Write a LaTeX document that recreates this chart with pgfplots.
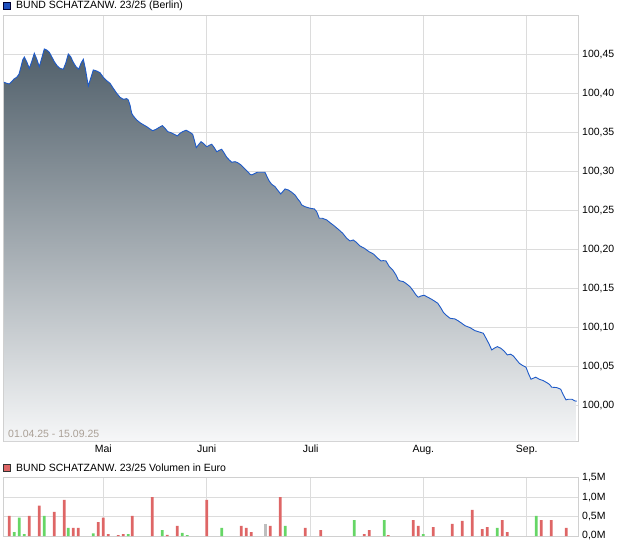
\documentclass[border=0pt]{standalone}
\usepackage{pgfplots}
\pgfplotsset{compat=1.18}
\usepackage{pgfplotstable}
\usepackage{fontspec}
\setmainfont{Liberation Sans}
\definecolor{gridc}{RGB}{220,220,220}
\definecolor{framec}{RGB}{208,208,208}
\definecolor{linec}{RGB}{30,90,200}
\definecolor{topc}{RGB}{80,95,106}
\definecolor{botc}{RGB}{246,247,248}
\definecolor{volred}{RGB}{222,102,102}
\definecolor{volgreen}{RGB}{102,214,102}
\definecolor{volgray}{RGB}{190,190,190}
\definecolor{datec}{RGB}{170,160,150}
\definecolor{legblue}{RGB}{30,80,190}

\pgfplotstableread{
px p
4 100.4150
6.7 100.4137
9.3 100.4128
11.7 100.4158
14 100.4192
16.7 100.4214
19 100.4253
21 100.4350
22.7 100.4436
24.3 100.4474
26.7 100.4414
29.3 100.4329
31.7 100.4414
34.3 100.4522
36.7 100.4449
39.3 100.4350
41.7 100.4458
44.3 100.4577
46.7 100.4564
49.3 100.4535
51.7 100.4478
54.3 100.4414
57.3 100.4359
60 100.4329
63.3 100.4317
65.7 100.4394
68.3 100.4513
70.7 100.4478
73.3 100.4406
76 100.4350
78.7 100.4317
81 100.4394
83.3 100.4445
85.3 100.4329
88.3 100.4103
90.7 100.4201
93.3 100.4308
96.7 100.4295
100 100.4273
103.3 100.4214
106.7 100.4171
110 100.4137
113.3 100.4073
116.7 100.4009
120 100.3958
123.3 100.3932
126.7 100.3940
128.3 100.3923
130 100.3859
131.7 100.3753
133.3 100.3718
136.7 100.3667
140 100.3632
143.3 100.3606
146.7 100.3581
150 100.3551
152.7 100.3529
156 100.3547
159.3 100.3573
162.3 100.3594
165 100.3560
167.7 100.3517
171 100.3504
174.3 100.3483
177.3 100.3462
180 100.3496
182.7 100.3517
186 100.3535
190 100.3509
192.7 100.3483
194.3 100.3410
196.3 100.3312
198.3 100.3346
201 100.3388
203.3 100.3368
206.7 100.3324
210 100.3346
211.7 100.3355
214 100.3317
216.7 100.3260
220 100.3282
221.7 100.3291
224.3 100.3240
226.7 100.3188
229.3 100.3154
231.7 100.3124
235 100.3132
237.7 100.3119
241 100.3090
244.3 100.3047
247.7 100.3004
250 100.2971
251.7 100.2962
255 100.2983
257.3 100.2996
265 100.2996
266.7 100.2949
269 100.2888
271.7 100.2842
275 100.2812
278.3 100.2756
280.7 100.2718
282.7 100.2747
285 100.2782
288.3 100.2769
291.7 100.2740
295 100.2705
297.7 100.2654
300 100.2619
301.7 100.2577
305 100.2555
310 100.2535
314.3 100.2526
316.7 100.2491
319.3 100.2406
322.3 100.2406
326.7 100.2385
330 100.2350
334.3 100.2308
338.3 100.2265
342.7 100.2214
346.7 100.2150
350 100.2115
353.3 100.2128
356.7 100.2094
360 100.2051
364.3 100.2022
369 100.1978
373.3 100.1949
377.7 100.1894
381 100.1859
383.3 100.1863
386 100.1859
389.3 100.1786
392.7 100.1744
396 100.1679
398.3 100.1615
400 100.1603
403.3 100.1594
406.7 100.1564
410 100.1529
413.3 100.1474
416 100.1423
418.3 100.1394
421 100.1410
424.3 100.1419
426.7 100.1401
431 100.1372
434.3 100.1346
437.7 100.1317
441 100.1253
443.3 100.1201
446.7 100.1158
450 100.1124
455 100.1115
458.3 100.1090
461.7 100.1060
465 100.1029
470 100.1004
475 100.0965
480 100.0945
483.3 100.0932
486 100.0868
489 100.0795
491.7 100.0718
494.3 100.0740
497.3 100.0760
500.7 100.0740
504 100.0705
507.3 100.0654
510.7 100.0663
513.3 100.0641
516 100.0599
519.3 100.0547
522.7 100.0517
526 100.0496
528.3 100.0419
531 100.0342
533.3 100.0355
535.7 100.0368
539.3 100.0342
543.3 100.0324
546.7 100.0299
549.3 100.0278
551.7 100.0240
556.7 100.0235
560.7 100.0214
563.3 100.0141
566 100.0077
568.3 100.0086
571.7 100.0086
575 100.0064
576.7 100.0060
}\pricetable
\pgfplotstableread{
px p
576.7 99.955
4 99.955
}\basetable
\pgfplotstablevertcat{\areatable}{\pricetable}
\pgfplotstablevertcat{\areatable}{\basetable}

\begin{document}
\begin{tikzpicture}
\useasboundingbox (0pt,0pt) rectangle (620pt,546pt);
% price panel (y plotted relative to 100)
\begin{axis}[
  at={(3pt,105pt)}, anchor=south west,
  width=575pt, height=425pt, scale only axis,
  xmin=3, xmax=578, ymin=-0.045, ymax=0.50,
  axis line style={framec, line width=1pt},
  xtick={103.3,206.7,310.7,423.3,526.7},
  xticklabels={Mai,Juni,Juli,Aug.,Sep.},
  ytick={0,0.05,0.1,0.15,0.2,0.25,0.3,0.35,0.4,0.45},
  yticklabels={{100,00},{100,05},{100,10},{100,15},{100,20},{100,25},{100,30},{100,35},{100,40},{100,45}},
  yticklabel pos=right,
  grid=major, major grid style={gridc, line width=1pt},
  major tick length=0pt,
  tick style={draw=none},
  ticklabel style={font=\fontsize{10.5}{12}\selectfont, inner sep=0pt},
  yticklabel style={anchor=west, xshift=4pt},
  xticklabel style={anchor=north, yshift=-4pt},
]
\addplot[draw=none, top color=topc, bottom color=botc] table[x=px, y expr=\thisrow{p}-100] {\areatable};
\addplot[linec, line width=0.9pt, mark=none] table[x=px, y expr=\thisrow{p}-100] {\pricetable};
\end{axis}
\node[anchor=west, text=datec, inner sep=0pt, font=\fontsize{10.5}{12}\selectfont] at (8pt,111.7pt) {01.04.25 - 15.09.25};
% volume panel
\begin{axis}[
  at={(3pt,10pt)}, anchor=south west,
  width=575pt, height=58.3pt, scale only axis,
  xmin=3, xmax=578, ymin=0, ymax=1.5,
  axis line style={framec, line width=1pt},
  xtick={103.3,206.7,310.7,423.3,526.7},
  xticklabels={},
  ytick={0,0.5,1,1.5},
  yticklabels={{0,0M},{0,5M},{1,0M},{1,5M}},
  yticklabel pos=right,
  grid=major, major grid style={gridc, line width=1pt},
  major tick length=0pt,
  tick style={draw=none},
  ticklabel style={font=\fontsize{10.5}{12}\selectfont, inner sep=0pt},
  yticklabel style={anchor=west, xshift=4pt},
]
\addplot[ybar, bar shift=0pt, bar width=2.8pt, fill=volred, draw=none] coordinates {
(9.3,0.52) (29.3,0.52) (39.3,0.78) (54.3,0.62) (64.3,0.93) (73.3,0.21) (78.3,0.21)
(98.3,0.36) (103.3,0.47) (108.3,0.05) (118.3,0.02) (123.3,0.05) (132.3,0.52) (152.3,1.0)
(167.3,0.03) (177.3,0.26) (206.7,0.93) (241.3,0.26) (246.3,0.21) (251.3,0.10) (270.3,0.26)
(280.3,1.0) (305.3,0.21) (320.7,0.15) (364.3,0.05) (369.3,0.15) (388.3,0.02) (413.3,0.41)
(418.3,0.26) (433.3,0.23) (452.3,0.31) (462.3,0.39) (472.3,0.67) (482.3,0.18) (487.3,0.23)
(502.3,0.41) (507.3,0.10) (541.3,0.41) (551.3,0.41) (566.3,0.21)};
\addplot[ybar, bar shift=0pt, bar width=2.8pt, fill=volgreen, draw=none] coordinates {
(14.3,0.10) (19.3,0.47) (24.3,0.05) (44.3,0.52) (68.3,0.21) (93.3,0.07) (128.3,0.05)
(162.3,0.15) (182.3,0.08) (187.3,0.02) (221.7,0.21) (285.3,0.26) (354.3,0.41) (384.3,0.41)
(423.3,0.05) (497.3,0.21) (536.3,0.52)};
\addplot[ybar, bar shift=0pt, bar width=2.8pt, fill=volgray, draw=none] coordinates {
(265.3,0.31)};
\end{axis}
% legends
\draw[fill=legblue, draw=black!80!blue, line width=0.6pt] (3.5pt,537pt) rectangle (10.5pt,543.5pt);
\node[anchor=west, inner sep=0pt, font=\fontsize{10.5}{12}\selectfont] at (16pt,540pt) {BUND SCHATZANW. 23/25 (Berlin)};
\draw[fill=volred, draw=black!80, line width=0.6pt] (3.5pt,75pt) rectangle (10.5pt,81.5pt);
\node[anchor=west, inner sep=0pt, font=\fontsize{10.5}{12}\selectfont] at (16pt,78pt) {BUND SCHATZANW. 23/25 Volumen in Euro};
\end{tikzpicture}
\end{document}
